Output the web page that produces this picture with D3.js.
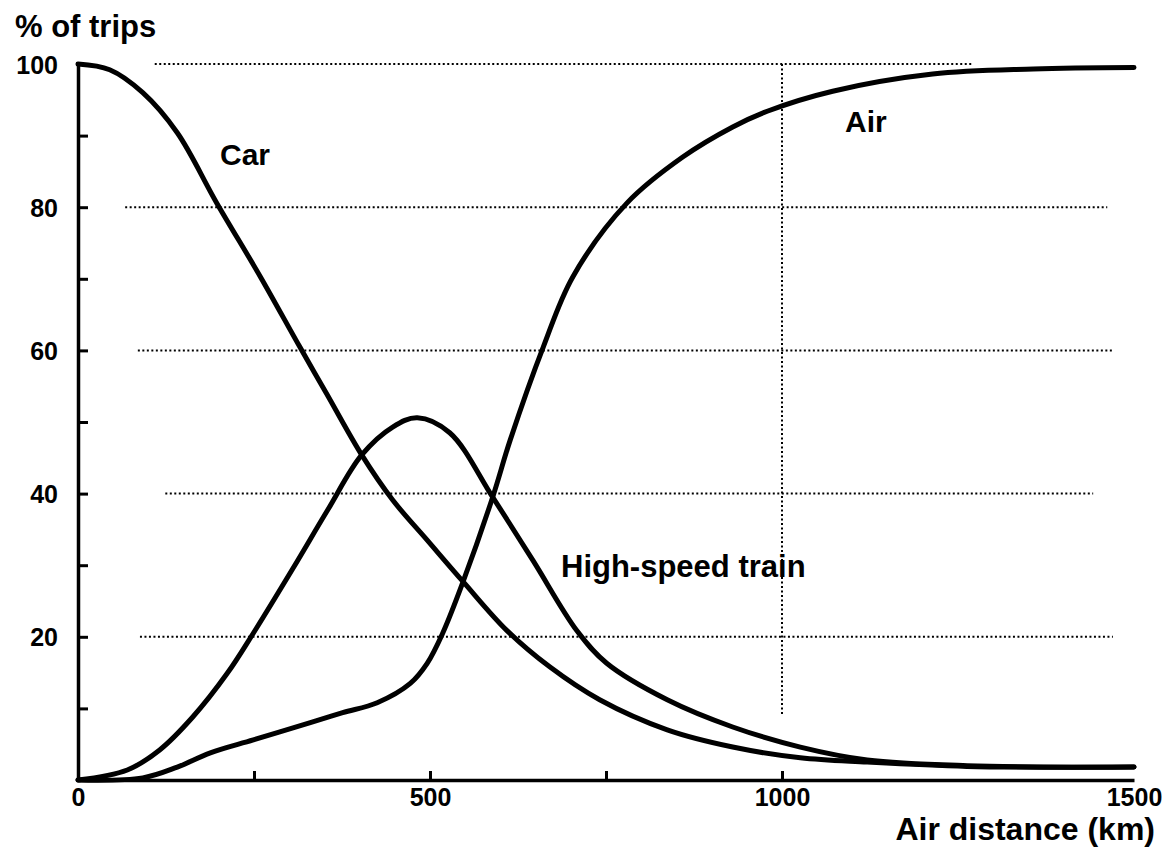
<!DOCTYPE html>
<html>
<head>
<meta charset="utf-8">
<script src="https://cdn.jsdelivr.net/npm/d3@7"></script>
<style>
    body { margin: 0; background: #fff; }
    text { font-family: "Liberation Sans", Arial, Helvetica, sans-serif; font-weight: bold; fill: #000; }
</style>
</head>
<body>
<div id="chart"></div>
<script>
// values (air distance in km, share of trips in %)
var carKm = [0, 45, 92, 141, 197, 259, 315, 354, 403, 447, 496, 547, 609, 670, 741, 837, 930, 1026, 1121, 1263, 1500];
var carPct = [100, 99.2, 96, 90.4, 80.6, 70.3, 60.5, 53.8, 45.4, 39.1, 33.5, 27.7, 20.9, 15.8, 11.2, 7.0, 4.6, 3.1, 2.5, 1.9, 1.8];

var trainKm = [0, 70, 116, 163, 212, 249, 305, 354, 403, 447, 482, 528, 589, 646, 709, 751, 837, 930, 1026, 1121, 1263, 1500];
var trainPct = [0, 1.4, 4.2, 8.8, 14.9, 20.5, 29.5, 37.6, 45.4, 49.3, 50.6, 48.5, 39.5, 30.7, 20.8, 16.3, 11.2, 7.4, 4.6, 2.8, 2.0, 1.8];

var airKm = [0, 92, 141, 188, 249, 330, 376, 425, 472, 496, 518, 547, 589, 614, 661, 703, 780, 859, 930, 979, 1072, 1214, 1357, 1500];
var airPct = [0, 0.3, 1.8, 3.8, 5.6, 8.0, 9.4, 10.8, 13.5, 16.3, 20.5, 27.7, 39.5, 47.5, 60.5, 70.3, 80.6, 87.0, 91.2, 93.4, 96.2, 98.6, 99.3, 99.5];

var yTicks = [10, 20, 30, 40, 50, 60, 70, 80, 90, 100];
var yLabels = [20, 40, 60, 80, 100];
var xTicks = [250, 500, 750, 1000];
var xLabels = [0, 500, 1000, 1500];

// dotted grid lines: level and the km range they cover
var gridLevels = [100, 80, 60, 40, 20];
var gridFrom = [109, 67, 85, 124, 88];
var gridTo = [1271, 1462, 1470, 1442, 1470];

var width = 1171, height = 851;
var margin = {top: 64, left: 78, right: 37, bottom: 71};

var svg = d3.select("#chart")
    .append("svg")
    .attr("width", width)
    .attr("height", height);

svg.append("rect").attr("width", width).attr("height", height).attr("fill", "#fff");

var x = d3.scaleLinear()
    .domain([0, 1500])
    .range([margin.left, width - margin.right]);

var y = d3.scaleLinear()
    .domain([0, 100])
    .range([height - margin.bottom, margin.top]);

// grid
var grid = svg.append("g").attr("class", "grid");
grid.selectAll("line.h")
    .data(gridLevels)
    .enter().append("line")
    .attr("class", "h")
    .attr("x1", (d, i) => x(gridFrom[i]))
    .attr("x2", (d, i) => x(gridTo[i]))
    .attr("y1", d => y(d))
    .attr("y2", d => y(d));

grid.append("line")
    .attr("x1", x(1000)).attr("x2", x(1000))
    .attr("y1", y(100)).attr("y2", y(9));

grid.selectAll("line")
    .attr("stroke", "#000")
    .attr("stroke-width", 2)
    .attr("stroke-dasharray", "2,2.5");

// axes
var yAxis = svg.append("g")
    .attr("transform", "translate(" + x(0) + ",0)")
    .call(d3.axisLeft(y)
        .tickValues(yTicks)
        .tickSizeInner(-10)
        .tickSizeOuter(0)
        .tickPadding(20)
        .tickFormat(d => yLabels.indexOf(d) >= 0 ? d : ""));

var xAxis = svg.append("g")
    .attr("transform", "translate(0," + y(0) + ")")
    .call(d3.axisBottom(x)
        .tickValues(xTicks)
        .tickSizeInner(-9)
        .tickSizeOuter(0)
        .tickFormat(""));

var xAxisLabels = svg.append("g")
    .attr("transform", "translate(0," + y(0) + ")")
    .call(d3.axisBottom(x)
        .tickValues(xLabels)
        .tickSize(0)
        .tickPadding(8)
        .tickFormat(d3.format("d")));
xAxisLabels.select(".domain").remove();

svg.selectAll(".domain").attr("stroke", "#000").attr("stroke-width", 3.5);
svg.selectAll(".tick line").attr("stroke", "#000").attr("stroke-width", 3);
yAxis.selectAll(".tick text").style("font-size", "25px").attr("dy", "0.36em");
xAxisLabels.selectAll(".tick text").style("font-size", "25px").attr("dy", "0.71em");

// curves
var line = d3.line()
    .x(d => x(d[0]))
    .y(d => y(d[1]))
    .curve(d3.curveCatmullRom.alpha(0.5));

var series = [
    d3.zip(carKm, carPct),
    d3.zip(trainKm, trainPct),
    d3.zip(airKm, airPct)
];

svg.selectAll(".curve")
    .data(series)
    .enter().append("path")
    .attr("class", "curve")
    .attr("fill", "none")
    .attr("stroke", "#000")
    .attr("stroke-width", 5)
    .attr("stroke-linejoin", "round")
    .attr("stroke-linecap", "round")
    .attr("d", line);

// text
svg.append("text")
    .attr("x", 15).attr("y", 37)
    .style("font-size", "31px")
    .text("% of trips");

svg.append("text")
    .attr("x", 1155).attr("y", 840)
    .attr("text-anchor", "end")
    .style("font-size", "32px")
    .text("Air distance (km)");

svg.append("text")
    .attr("x", 220).attr("y", 165)
    .style("font-size", "30px")
    .text("Car");

svg.append("text")
    .attr("x", 845).attr("y", 132)
    .style("font-size", "30px")
    .text("Air");

svg.append("text")
    .attr("x", 561).attr("y", 577)
    .style("font-size", "31px")
    .text("High-speed train");
</script>
</body>
</html>
